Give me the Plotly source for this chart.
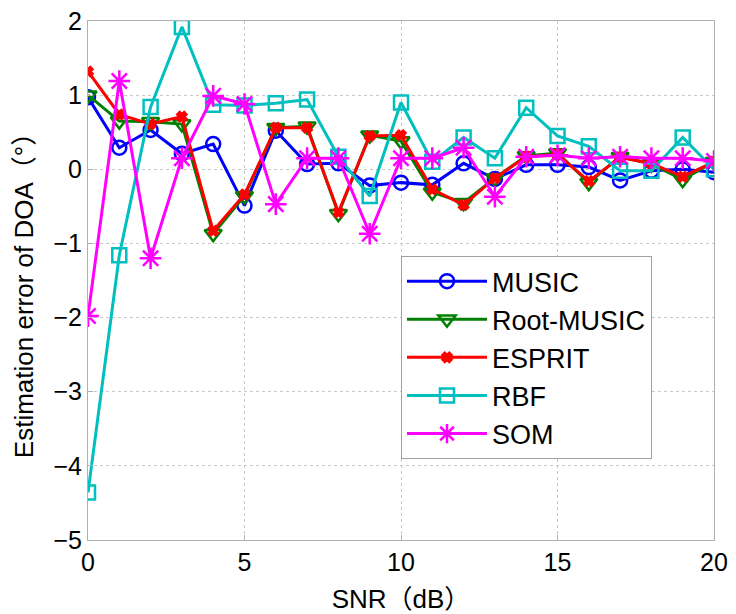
import plotly.graph_objects as go

snr = list(range(21))
music = [0.97, 0.29, 0.53, 0.21, 0.34, -0.49, 0.52, 0.07, 0.08, -0.22, -0.18, -0.21, 0.08, -0.13, 0.06, 0.06, 0.03, -0.15, -0.02, 0.0, -0.04]
root_music = [1.0, 0.65, 0.64, 0.61, -0.87, -0.36, 0.56, 0.58, -0.6, 0.46, 0.38, -0.31, -0.45, -0.12, 0.18, 0.22, -0.18, 0.17, 0.07, -0.14, 0.1]
esprit = [1.32, 0.74, 0.61, 0.71, -0.83, -0.34, 0.56, 0.56, -0.58, 0.45, 0.46, -0.27, -0.48, -0.12, 0.17, 0.2, -0.16, 0.16, 0.08, -0.1, 0.1]
rbf = [-4.36, -1.16, 0.84, 1.92, 0.87, 0.86, 0.89, 0.94, 0.17, -0.36, 0.9, 0.1, 0.43, 0.15, 0.83, 0.45, 0.31, -0.02, -0.02, 0.43, 0.0]
som = [-1.98, 1.19, -1.2, 0.15, 0.99, 0.88, -0.47, 0.15, 0.15, -0.87, 0.15, 0.15, 0.29, -0.37, 0.17, 0.19, 0.15, 0.17, 0.15, 0.15, 0.11]

x_title = "SNR（dB）"
y_title = "Estimation error of DOA（°）"

series = [
    ("MUSIC", music, "#0000ff", "circle-open", 14),
    ("Root-MUSIC", root_music, "#008000", "triangle-down-open", 15),
    ("ESPRIT", esprit, "#ff0000", "x", 8),
    ("RBF", rbf, "#00bfbf", "square-open", 14),
    ("SOM", som, "#ff00ff", "asterisk-open", 18),
]

fig = go.Figure()
for name, vals, color, sym, size in series:
    fig.add_trace(go.Scatter(
        x=snr, y=vals, name=name, mode="lines+markers",
        line=dict(color=color, width=3),
        marker=dict(symbol=sym, size=size, color=color,
                    line=dict(color=color, width=2.5)),
    ))

font_family = "Liberation Sans, Arial, Noto Sans CJK SC"

axis_common = dict(
    showgrid=True, gridcolor="#c8c8c8", griddash="dot", gridwidth=1,
    showline=True, linecolor="#b0b0b0", linewidth=1, mirror=True,
    ticks="inside", ticklen=5, tickcolor="#b0b0b0",
    zeroline=False, automargin=False,
    tickfont=dict(family=font_family, size=25, color="black"),
)

fig.update_xaxes(range=[0, 20], tickvals=[0, 5, 10, 15, 20],
                 title=dict(text=x_title, font=dict(family=font_family, size=26, color="black"), standoff=14),
                 **axis_common)
fig.update_yaxes(range=[-5, 2], tickvals=[-5, -4, -3, -2, -1, 0, 1, 2],
                 **axis_common)

fig.add_annotation(
    text=y_title, textangle=-90, showarrow=False,
    xref="paper", yref="paper", x=-0.102, y=0.4836,
    xanchor="center", yanchor="middle",
    font=dict(family=font_family, size=26, color="black"),
)

fig.update_layout(
    width=736, height=614,
    margin=dict(l=88, r=22, t=21, b=74),
    paper_bgcolor="white", plot_bgcolor="white",
    showlegend=True,
    legend=dict(
        x=0.5, y=0.547, xanchor="left", yanchor="top",
        bgcolor="white", bordercolor="#a0a0a0", borderwidth=1,
        font=dict(family=font_family, size=27, color="black"),
        tracegroupgap=0, itemwidth=80,
    ),
)

fig.write_html("out.html")
